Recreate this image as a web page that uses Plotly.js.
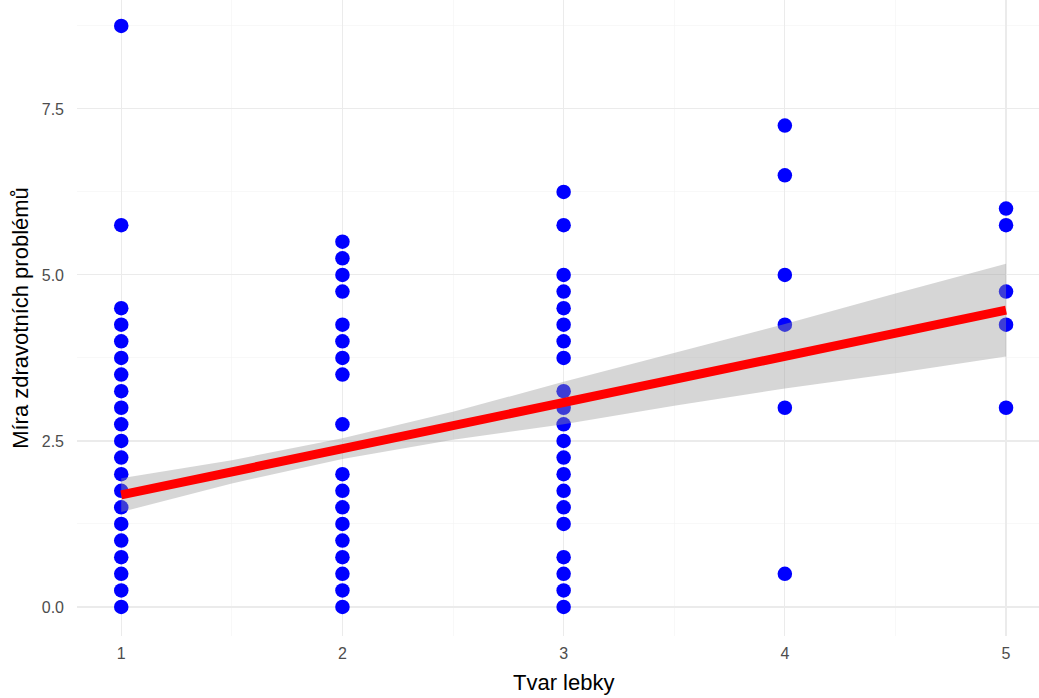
<!DOCTYPE html>
<html>
<head>
<meta charset="utf-8">
<script src="https://cdn.plot.ly/plotly-3.0.1.min.js"></script>
<style>html,body{margin:0;padding:0;background:#fff;}#chart{width:1039px;height:698px;}</style>
</head>
<body>
<div id="chart"></div>
<script>
// Míra zdravotních problémů values for each Tvar lebky group
const shape1 = [8.75, 5.75, 4.5, 4.25, 4, 3.75, 3.5, 3.25, 3, 2.75, 2.5, 2.25, 2, 1.75, 1.5, 1.25, 1, 0.75, 0.5, 0.25, 0];
const shape2 = [5.5, 5.25, 5, 4.75, 4.25, 4, 3.75, 3.5, 2.75, 2, 1.75, 1.5, 1.25, 1, 0.75, 0.5, 0.25, 0];
const shape3 = [6.25, 5.75, 5, 4.75, 4.5, 4.25, 4, 3.75, 3.25, 3, 2.75, 2.5, 2.25, 2, 1.75, 1.5, 1.25, 0.75, 0.5, 0.25, 0];
const shape4 = [7.25, 6.5, 5, 4.25, 3, 0.5];
const shape5 = [6, 5.75, 4.75, 4.25, 3];
const groupX = [1, 2, 3, 4, 5];

// Regression fit and confidence band
const fitX = [1, 1.5, 2, 2.5, 3, 3.5, 4, 4.5, 5];
const fitY = [1.687, 2.035, 2.383, 2.731, 3.079, 3.427, 3.775, 4.123, 4.47];
const fitUpper = [1.94, 2.21, 2.54, 2.94, 3.39, 3.83, 4.26, 4.72, 5.17];
const fitLower = [1.43, 1.86, 2.23, 2.52, 2.75, 3.03, 3.29, 3.52, 3.77];

const xTicks = [1, 2, 3, 4, 5];
const yTicks = [0, 2.5, 5, 7.5];
const yTickText = ['0.0', '2.5', '5.0', '7.5'];
const xTitle = 'Tvar lebky';
const yTitle = 'Míra zdravotních problémů';

const groups = [shape1, shape2, shape3, shape4, shape5];
const px = [], py = [];
groups.forEach((g, i) => g.forEach(v => { px.push(groupX[i]); py.push(v); }));

const traces = [
  {
    x: px, y: py, type: 'scatter', mode: 'markers',
    marker: {color: '#0000ff', size: 14.5, line: {width: 0}},
    hoverinfo: 'x+y', showlegend: false
  },
  {
    x: fitX.concat(fitX.slice().reverse()),
    y: fitUpper.concat(fitLower.slice().reverse()),
    type: 'scatter', mode: 'lines', fill: 'toself',
    fillcolor: 'rgba(153,153,153,0.4)', line: {width: 0, color: 'rgba(0,0,0,0)'},
    hoverinfo: 'skip', showlegend: false
  },
  {
    x: fitX, y: fitY, type: 'scatter', mode: 'lines',
    line: {color: '#ff0000', width: 9},
    hoverinfo: 'skip', showlegend: false
  }
];

const layout = {
  width: 1039, height: 698,
  margin: {l: 77, r: 0, t: 0, b: 62},
  paper_bgcolor: '#ffffff', plot_bgcolor: '#ffffff',
  font: {family: 'Liberation Sans, Arial, sans-serif', color: '#4d4d4d'},
  showlegend: false,
  xaxis: {
    range: [0.8, 5.149],
    tickvals: xTicks,
    ticktext: xTicks.map(String),
    showgrid: true, gridcolor: '#ebebeb', gridwidth: 1.1,
    minor: {tickvals: [1.5, 2.5, 3.5, 4.5], showgrid: true, gridcolor: '#f3f3f3', gridwidth: 0.6, ticks: ''},
    zeroline: false, showline: false, ticks: '',
    tickfont: {size: 16, color: '#4d4d4d'},
    ticklabelstandoff: 6,
    automargin: false
  },
  yaxis: {
    range: [-0.437, 9.14],
    tickvals: yTicks,
    ticktext: yTickText,
    showgrid: true, gridcolor: '#ebebeb', gridwidth: 1.1,
    minor: {tickvals: [1.25, 3.75, 6.25, 8.75], showgrid: true, gridcolor: '#f3f3f3', gridwidth: 0.6, ticks: ''},
    zeroline: false, showline: false, ticks: '',
    tickfont: {size: 16, color: '#4d4d4d'},
    ticklabelstandoff: 12,
    automargin: false,
    title: {text: yTitle, font: {size: 22, color: '#000000'}, standoff: 7}
  },
  annotations: [{
    text: xTitle, xref: 'x', x: 3, yref: 'paper', y: -0.073,
    xanchor: 'center', yanchor: 'middle', showarrow: false,
    font: {size: 22, color: '#000000'}
  }]
};

Plotly.newPlot('chart', traces, layout, {displayModeBar: false, staticPlot: true});
</script>
</body>
</html>
